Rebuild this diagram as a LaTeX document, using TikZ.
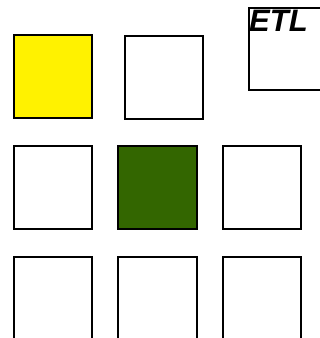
\documentclass[tikz,border=0pt]{standalone}
\usepackage{fontspec}
\setmainfont{Liberation Sans}
\definecolor{dkgreen}{HTML}{336600}
\begin{document}
\begin{tikzpicture}[x=1pt,y=-1pt,
  cell/.style={draw=black,line width=1.8pt}]
\useasboundingbox (0,0) rectangle (320,338);
\begin{scope}
\clip (0,0) rectangle (320,338);
\draw[cell,fill=yellow] (14,35) rectangle (92,118) coordinate (c1);
\draw[cell] (125,36) rectangle (203,119) coordinate (c2);
\draw[cell] (249,8) rectangle (325,90) coordinate (etlbox);
\draw[cell] (14,146) rectangle (92,229) coordinate (c4);
\draw[cell,fill=dkgreen] (118,146) rectangle (197,229) coordinate (c5);
\draw[cell] (223,146) rectangle (301,229) coordinate (c6);
\draw[cell] (14,257) rectangle (92,345) coordinate (c7);
\draw[cell] (118,257) rectangle (197,345) coordinate (c8);
\draw[cell] (223,257) rectangle (301,345) coordinate (c9);
\node[anchor=north west,inner sep=0pt,font=\fontsize{31}{31}\selectfont\bfseries\itshape] (etl) at (249,9.5) {ETL};
\end{scope}
\end{tikzpicture}
\end{document}
